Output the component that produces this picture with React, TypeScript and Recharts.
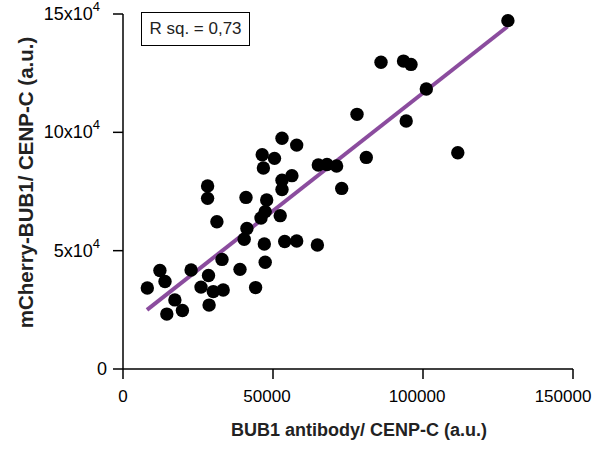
import {
  ScatterChart,
  Scatter,
  XAxis,
  YAxis,
  ReferenceLine,
} from 'recharts'

// BUB1 antibody / CENP-C (a.u.)
const antibody = [
  8100, 12300, 14000, 14600, 17300, 19800, 22700, 26000, 28200, 28200, 28500,
  28700, 30100, 31300, 33000, 33400, 39000, 40400, 41000, 41300, 44200, 46000,
  46400, 46800, 47100, 47400, 47400, 47900, 50500, 52400, 53000, 53000, 53000,
  53900, 56300, 57900, 57900, 64800, 65100, 68000, 71200, 72900, 78000, 81100,
  86000, 93500, 94400, 96000, 101100, 111600, 128300,
]
// mCherry-BUB1 / CENP-C (a.u.)
const mcherry = [
  34200, 41600, 37000, 23200, 29200, 24700, 41800, 34600, 77300, 72100, 39500,
  27000, 32700, 62200, 46300, 33400, 42100, 54800, 72500, 59400, 34400, 63800,
  90500, 84900, 52800, 66500, 45100, 71400, 89000, 64800, 97500, 79800, 75800,
  53900, 81700, 94600, 54100, 52400, 86200, 86400, 85800, 76300, 107600, 89400,
  129600, 130100, 104800, 128700, 118300, 91400, 147200,
]
// linear fit end points
const fitX = [8000, 128100]
const fitY = [25000, 144600]

const xTicks = [0, 50000, 100000, 150000]
const yTicks = [0, 50000, 100000, 150000]
const rSquared = '0,73'

const font = '"Liberation Sans", Arial, Helvetica, sans-serif'
const purple = '#8b4c9e'

const punkte = antibody.map((x, i) => ({ x, y: mcherry[i] }))

const XTick = ({ x, y, payload }: any) => {
  const v = payload.value
  // the original labels sit a little left of their ticks
  const shift = v === 0 ? 0 : v === 150000 ? -8 : -6
  return (
    <text x={x + shift} y={y} dy="0.71em" textAnchor="middle" fontSize={17} fontFamily={font} fill="#000">
      {v}
    </text>
  )
}

const YTick = ({ x, y, payload }: any) => {
  const v = payload.value
  if (v === 0) {
    return (
      <text x={x} y={y} dy={6} textAnchor="end" fontSize={18} fontFamily={font} fill="#000">
        0
      </text>
    )
  }
  return (
    <text x={x - 7} y={y} textAnchor="end" fontSize={18} fontFamily={font} fill="#000">
      <tspan dy={6}>{v / 10000}x10</tspan>
      <tspan dy={-9} fontSize={13}>4</tspan>
    </text>
  )
}

const XTitle = ({ viewBox }: any) => (
  <text
    x={viewBox.x + viewBox.width / 2 + 11}
    y={viewBox.y + viewBox.height - 14}
    textAnchor="middle"
    fontSize={18}
    fontWeight="bold"
    fontFamily={font}
    fill="#222"
  >
    BUB1 antibody/ CENP-C (a.u.)
  </text>
)

const YTitle = ({ viewBox }: any) => {
  const cx = 25
  const cy = viewBox.y + viewBox.height / 2 - 9
  return (
    <text
      x={cx}
      y={cy}
      transform={`rotate(-90 ${cx} ${cy})`}
      textAnchor="middle"
      dominantBaseline="central"
      fontSize={20.5}
      fontWeight="bold"
      fontFamily={font}
      fill="#222"
    >
      mCherry-BUB1/ CENP-C (a.u.)
    </text>
  )
}

export default function App() {
  return (
    <div style={{ position: 'absolute', left: 0, top: 0, width: 595, height: 450, background: '#fff' }}>
      <ScatterChart width={595} height={450} margin={{ top: 14, right: 22, left: 0, bottom: 0 }}>
        <XAxis
          type="number"
          dataKey="x"
          domain={[0, 150000]}
          ticks={xTicks}
          height={81}
          tickSize={10}
          tickMargin={11}
          stroke="#000"
          strokeWidth={1.5}
          tick={<XTick />}
          label={<XTitle />}
        />
        <YAxis
          type="number"
          dataKey="y"
          domain={[0, 150000]}
          ticks={yTicks}
          width={123}
          tickSize={10}
          tickMargin={6}
          stroke="#000"
          strokeWidth={1.5}
          tick={<YTick />}
          label={<YTitle />}
        />
        <ReferenceLine
          segment={[
            { x: fitX[0], y: fitY[0] },
            { x: fitX[1], y: fitY[1] },
          ]}
          stroke={purple}
          strokeWidth={4}
        />
        <Scatter
          data={punkte}
          isAnimationActive={false}
          shape={(p: any) => <circle cx={p.cx} cy={p.cy} r={6.7} fill="#000" />}
        />
      </ScatterChart>
      <div
        style={{
          position: 'absolute',
          left: 141,
          top: 12,
          width: 109,
          height: 34,
          boxSizing: 'border-box',
          border: '1px solid #000',
          fontFamily: font,
          fontSize: 17,
          lineHeight: '32px',
          textAlign: 'center',
          color: '#222',
        }}
      >
        R sq. = {rSquared}
      </div>
    </div>
  )
}
